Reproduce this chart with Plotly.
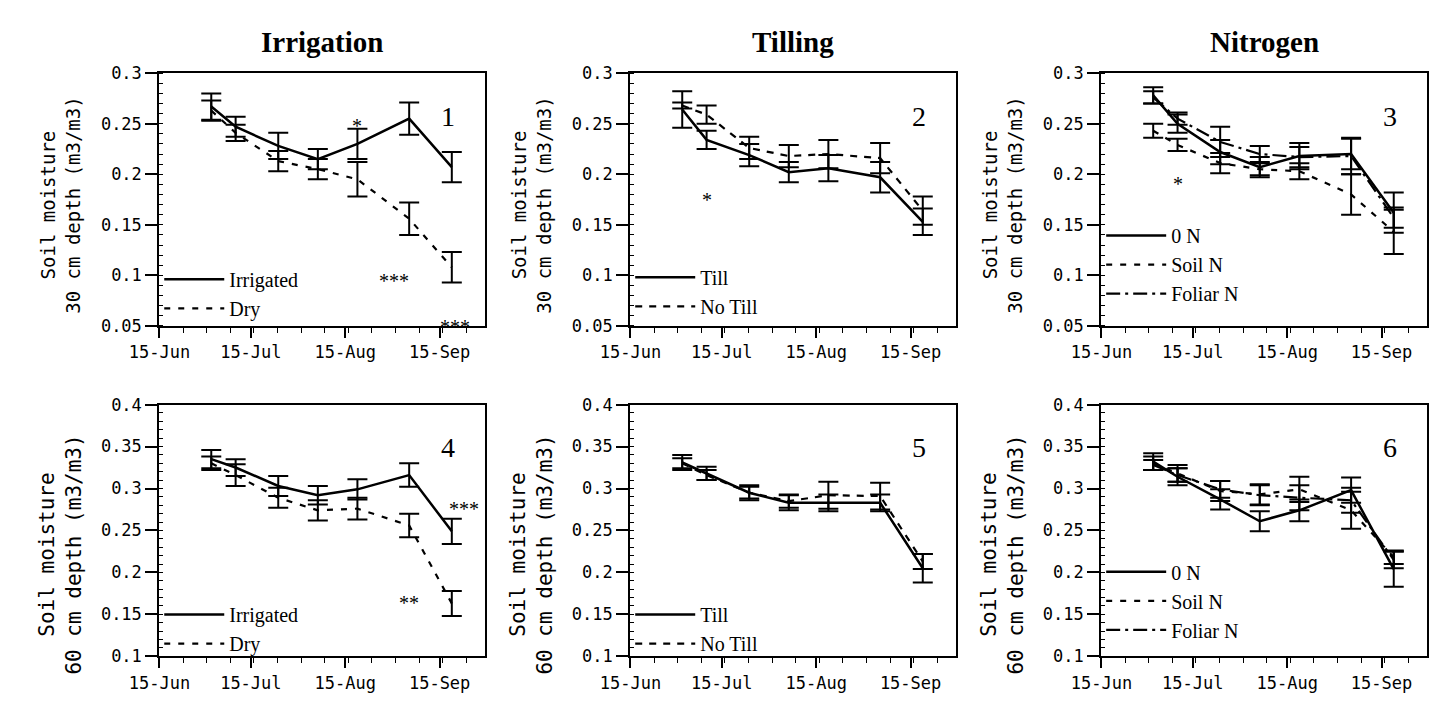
import plotly.graph_objects as go

# ---------------- data ----------------
dates = ["2000-07-02", "2000-07-10", "2000-07-24", "2000-08-06",
         "2000-08-19", "2000-09-05", "2000-09-19"]

# Panel 1: Irrigation, 30 cm
irr30 = [0.267, 0.247, 0.228, 0.215, 0.230, 0.255, 0.207]
irr30_err = [0.013, 0.010, 0.013, 0.010, 0.015, 0.016, 0.015]
dry30 = [0.263, 0.241, 0.213, 0.205, 0.195, 0.156, 0.108]
dry30_err = [0.010, 0.008, 0.010, 0.010, 0.017, 0.016, 0.015]

# Panel 2: Tilling, 30 cm
till30 = [0.264, 0.234, 0.219, 0.202, 0.206, 0.197, 0.153]
till30_err = [0.018, 0.009, 0.011, 0.010, 0.013, 0.015, 0.013]
notill30 = [0.268, 0.259, 0.226, 0.218, 0.220, 0.216, 0.164]
notill30_err = [0.003, 0.009, 0.011, 0.011, 0.014, 0.015, 0.014]

# Panel 3: Nitrogen, 30 cm
n0_30 = [0.278, 0.250, 0.222, 0.207, 0.218, 0.220, 0.162]
n0_30_err = [0.008, 0.009, 0.012, 0.010, 0.013, 0.015, 0.020]
soil30 = [0.243, 0.229, 0.211, 0.205, 0.203, 0.180, 0.143]
soil30_err = [0.007, 0.006, 0.010, 0.006, 0.008, 0.020, 0.022]
fol30 = [0.276, 0.255, 0.232, 0.220, 0.217, 0.218, 0.157]
fol30_err = [0.006, 0.006, 0.015, 0.008, 0.010, 0.018, 0.010]

# Panel 4: Irrigation, 60 cm
irr60 = [0.335, 0.325, 0.303, 0.292, 0.299, 0.316, 0.249]
irr60_err = [0.011, 0.010, 0.012, 0.011, 0.012, 0.014, 0.015]
dry60 = [0.330, 0.316, 0.289, 0.274, 0.276, 0.256, 0.163]
dry60_err = [0.008, 0.013, 0.012, 0.012, 0.013, 0.014, 0.015]

# Panel 5: Tilling, 60 cm
till60 = [0.331, 0.318, 0.295, 0.283, 0.283, 0.283, 0.205]
till60_err = [0.009, 0.008, 0.009, 0.009, 0.010, 0.010, 0.017]
notill60 = [0.330, 0.316, 0.295, 0.285, 0.292, 0.291, 0.213]
notill60_err = [0.006, 0.006, 0.007, 0.008, 0.016, 0.016, 0.009]

# Panel 6: Nitrogen, 60 cm
n0_60 = [0.332, 0.314, 0.287, 0.261, 0.274, 0.298, 0.204]
n0_60_err = [0.010, 0.010, 0.012, 0.012, 0.013, 0.015, 0.021]
soil60 = [0.330, 0.318, 0.297, 0.293, 0.299, 0.274, 0.218]
soil60_err = [0.008, 0.010, 0.012, 0.012, 0.015, 0.022, 0.008]
fol60 = [0.328, 0.316, 0.299, 0.292, 0.289, 0.286, 0.215]
fol60_err = [0.006, 0.008, 0.010, 0.012, 0.015, 0.015, 0.010]

col_titles = ["Irrigation", "Tilling", "Nitrogen"]
row_titles = ["Soil moisture<br>30 cm depth (m3/m3)", "Soil moisture<br>60 cm depth (m3/m3)"]
panel_labels = ["1", "2", "3", "4", "5", "6"]
y_ranges = [[0.05, 0.30], [0.10, 0.40]]
x_range = ["2000-06-14 22:00", "2000-09-30"]

# significance stars: (panel, date, value, text)
stars = [
    (1, "2000-08-19", 0.2535, "*"),
    (1, "2000-08-31", 0.100, "***"),
    (1, "2000-09-20", 0.055, "***"),
    (2, "2000-07-10", 0.180, "*"),
    (3, "2000-07-10", 0.196, "*"),
    (4, "2000-09-23", 0.283, "***"),
    (4, "2000-09-05", 0.171, "**"),
]

SOLID = "solid"
DASH = "6px,8px"
DASH2 = "7px,7px"
DASHDOT = "14px,5px,3px,5px"

series = [
    (1, "Irrigated", irr30, irr30_err, SOLID),
    (1, "Dry", dry30, dry30_err, DASH),
    (2, "Till", till30, till30_err, SOLID),
    (2, "No Till", notill30, notill30_err, DASH2),
    (3, "0 N", n0_30, n0_30_err, SOLID),
    (3, "Soil N", soil30, soil30_err, DASH),
    (3, "Foliar N", fol30, fol30_err, DASHDOT),
    (4, "Irrigated", irr60, irr60_err, SOLID),
    (4, "Dry", dry60, dry60_err, DASH),
    (5, "Till", till60, till60_err, SOLID),
    (5, "No Till", notill60, notill60_err, DASH2),
    (6, "0 N", n0_60, n0_60_err, SOLID),
    (6, "Soil N", soil60, soil60_err, DASH),
    (6, "Foliar N", fol60, fol60_err, DASHDOT),
]

# ---------------- layout geometry (pixels) ----------------
W, H = 1438, 712
col_px = [(132, 465), (613, 946), (1094, 1427)]
row_px = [(65, 325), (406, 665)]
legend_top_px = {1: 257, 2: 255, 3: 212, 4: 602, 5: 602, 6: 558}
ytitle_center_px = [201, 560]
ytitle_size = [19, 21]


def fx(p):
    return p / W


def fy(p):
    return 1 - p / H


fig = go.Figure()

for (panel, name, yv, ev, dash) in series:
    k = "" if panel == 1 else str(panel)
    fig.add_trace(go.Scatter(
        x=dates, y=yv, mode="lines", name=name,
        line=dict(color="black", width=2.5 if dash == SOLID else 2.2, dash=dash),
        error_y=dict(type="data", array=ev, visible=True, color="black",
                     thickness=2, width=10),
        xaxis="x" + k, yaxis="y" + k, legend="legend" + k,
    ))

layout = dict(
    width=W, height=H, margin=dict(l=0, r=0, t=0, b=0),
    paper_bgcolor="white", plot_bgcolor="white", showlegend=True,
    annotations=[],
)

for p in range(1, 7):
    r = 0 if p <= 3 else 1
    c = (p - 1) % 3
    k = "" if p == 1 else str(p)
    x0, x1 = col_px[c]
    y0, y1 = row_px[r]
    layout["xaxis" + k] = dict(
        domain=[fx(x0), fx(x1)], anchor="y" + k, type="date", range=x_range,
        tick0="2000-06-15", dtick="M1", tickformat="%d-%b",
        ticks="outside", ticklen=10, tickwidth=1.5, tickcolor="black",
        minor=dict(ticks="outside", ticklen=5, tickwidth=1, tickcolor="black",
                   dtick=7.75 * 86400000, tick0="2000-06-15"),
        showline=True, linecolor="black", linewidth=2, mirror=True,
        showgrid=False, zeroline=False,
        tickfont=dict(family="DejaVu Sans Mono", size=17, color="black"),
    )
    layout["yaxis" + k] = dict(
        domain=[fy(y1), fy(y0)], anchor="x" + k, range=y_ranges[r], dtick=0.05,
        ticks="outside", ticklen=12, tickwidth=1.5, tickcolor="black",
        minor=dict(ticks="inside", ticklen=4, tickwidth=1, tickcolor="black", dtick=0.01),
        showline=True, linecolor="black", linewidth=2, mirror=True,
        showgrid=False, zeroline=False,
        tickfont=dict(family="DejaVu Sans Mono", size=17, color="black"),
    )
    layout["legend" + k] = dict(
        x=fx(x0), y=fy(legend_top_px[p]), xanchor="left", yanchor="top",
        bgcolor="rgba(0,0,0,0)", borderwidth=0, itemwidth=60,
        tracegroupgap=0, traceorder="normal",
        font=dict(family="Liberation Serif", size=20, color="black"),
    )
    # y axis title
    layout["annotations"].append(dict(
        text=row_titles[r], xref="paper", yref="paper",
        x=fx(31 + 481 * c), y=fy(ytitle_center_px[r]), textangle=-90,
        showarrow=False, xanchor="center", yanchor="middle",
        font=dict(family="DejaVu Sans Mono", size=ytitle_size[r], color="black"),
    ))
    # panel number
    layout["annotations"].append(dict(
        text=panel_labels[p - 1], xref="x" + k + " domain", yref="y" + k + " domain",
        x=0.885, y=0.83, showarrow=False,
        xanchor="center", yanchor="middle",
        font=dict(family="Liberation Serif", size=28, color="black"),
    ))

for c in range(3):
    x0, x1 = col_px[c]
    layout["annotations"].append(dict(
        text="<b>" + col_titles[c] + "</b>", xref="paper", yref="paper",
        x=fx((x0 + x1) / 2), y=fy(33), showarrow=False,
        xanchor="center", yanchor="middle",
        font=dict(family="Liberation Serif", size=29, color="black"),
    ))

for (panel, d, v, t) in stars:
    k = "" if panel == 1 else str(panel)
    layout["annotations"].append(dict(
        text=t, xref="x" + k, yref="y" + k, x=d, y=v, showarrow=False,
        xanchor="center", yanchor="middle", yshift=-6,
        font=dict(family="Liberation Serif", size=20, color="black"),
    ))

fig.update_layout(**layout)
fig.write_html("out.html")
